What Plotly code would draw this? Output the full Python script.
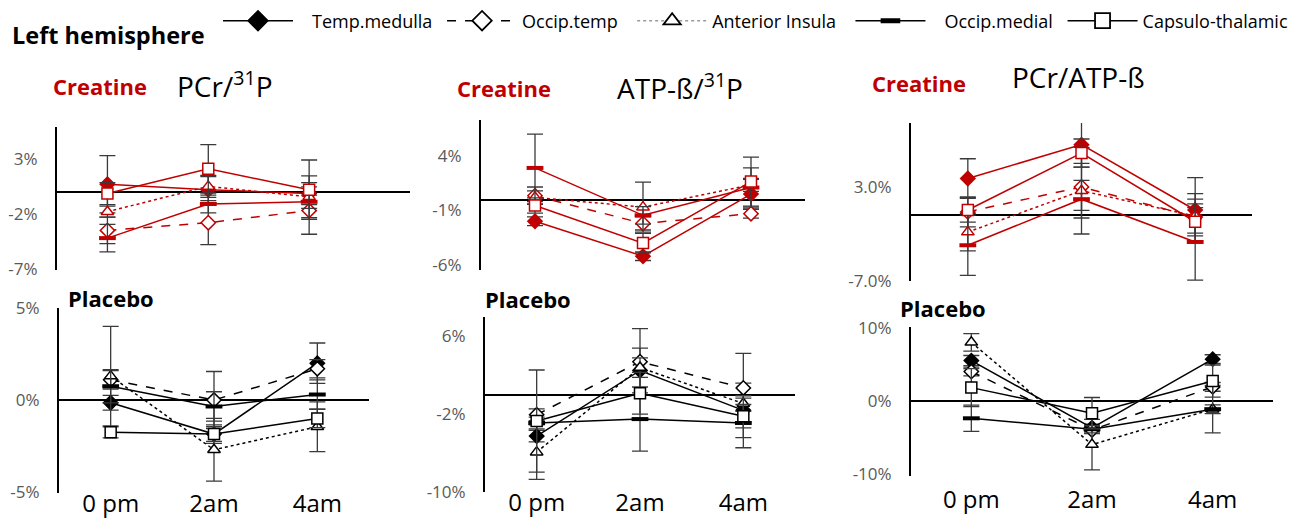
import plotly.graph_objects as go

W, H = 1289, 518

# ---------------- data ----------------
categories = ["0 pm", "2am", "4am"]
series_names = ["Temp.medulla", "Occip.temp", "Anterior Insula", "Occip.medial", "Capsulo-thalamic"]

# rows follow series_names; values are % change
cre_pcr_p = [[0.7, 0.2, -0.15], [-3.5, -2.8, -1.7], [-1.8, 0.5, -0.45], [-4.2, -1.1, -0.9], [-0.15, 2.1, 0.2]]
cre_pcr_p_err = [[2.6, 1.2, 1.0], [1.2, 2.0, 2.15], [0.5, 1.0, 1.9], [1.25, 0.8, 0.6], [1.0, 2.2, 2.7]]

cre_atp_p = [[-2.0, -5.2, 0.5], [0.35, -2.2, -1.3], [0.2, -0.7, 1.35], [2.9, -1.45, 1.1], [-0.55, -4.0, 1.65]]
cre_atp_p_err = [[0.4, 0.4, 1.35], [0.8, 0.6, 0.4], [0.6, 2.3, 0.6], [3.1, 0.8, 1.8], [0.7, 0.9, 2.25]]

cre_pcr_atp = [[3.9, 7.5, 0.55], [0.35, 3.0, -0.2], [-1.8, 2.6, -0.1], [-3.2, 1.7, -2.85], [0.55, 6.6, -0.7]]
cre_pcr_atp_err = [[2.1, 2.4, 3.45], [1.6, 2.5, 2.5], [2.0, 4.6, 1.8], [3.2, 2.0, 4.05], [1.3, 1.5, 1.5]]

pla_pcr_p = [[-0.15, -1.85, 2.0], [1.1, 0.0, 1.7], [1.3, -2.7, -1.45], [0.75, -0.35, 0.3], [-1.75, -1.85, -1.0]]
pla_pcr_p_err = [[0.4, 0.5, 1.1], [0.5, 1.55, 0.5], [2.7, 1.7, 1.35], [0.9, 0.8, 0.8], [0.3, 0.4, 0.5]]

pla_atp_p = [[-4.25, 2.5, -1.6], [-2.05, 3.4, 0.7], [-5.9, 2.8, -0.9], [-2.9, -2.5, -2.9], [-2.7, 0.15, -2.2]]
pla_atp_p_err = [[0.6, 2.3, 2.8], [0.6, 3.4, 3.55], [2.8, 1.0, 0.8], [0.6, 3.3, 2.55], [5.25, 2.15, 1.2]]

pla_pcr_atp = [[5.5, -3.7, 5.7], [4.0, -4.0, 1.9], [8.0, -6.0, -1.15], [-2.4, -3.9, -1.15], [1.8, -1.7, 2.7]]
pla_pcr_atp_err = [[0.7, 0.5, 0.6], [0.6, 0.5, 0.6], [1.2, 3.45, 0.6], [1.8, 0.5, 3.25], [2.6, 2.15, 2.2]]

ticks_cre_pcr_p = [3, -2, -7]
ticks_cre_atp_p = [4, -1, -6]
ticks_cre_pcr_atp = [3.0, -7.0]
ticks_pla_pcr_p = [5, 0, -5]
ticks_pla_atp_p = [6, -2, -10]
ticks_pla_pcr_atp = [10, 0, -10]

# ---------------- styles / layout ----------------
RED = "#C00000"
BLACK = "#000000"
ERR = "#3a3a3a"
FONT = "Open Sans"
NB = "\u00a0"

styles = [
    dict(symbol="diamond", filled=True, dash="solid", pre=3, post=1),
    dict(symbol="diamond", filled=False, dash="dash", pre=0, post=2),
    dict(symbol="triangle-up", filled=False, dash="dot", pre=0, post=2),
    dict(symbol="line-ew", filled=True, dash="solid", pre=3, post=1),
    dict(symbol="square", filled=False, dash="solid", pre=0, post=0),
]

panels = [
    dict(vals=cre_pcr_p, err=cre_pcr_p_err, ticks=ticks_cre_pcr_p, fmt="{:.0f}%", color=RED,
         px=(57, 410), xr=(-0.5, 3.0), py=(127, 270), yr=(-7.1, 5.9), xlabels=False, xso=0),
    dict(vals=cre_atp_p, err=cre_atp_p_err, ticks=ticks_cre_atp_p, fmt="{:.0f}%", color=RED,
         px=(481, 805), xr=(-0.5, 2.5), py=(120, 270), yr=(-6.47, 7.3), xlabels=False, xso=0),
    dict(vals=cre_pcr_atp, err=cre_pcr_atp_err, ticks=ticks_cre_pcr_atp, fmt="{:.1f}%", color=RED,
         px=(911, 1252), xr=(-0.5, 2.5), py=(123, 281), yr=(-7.0, 9.8), xlabels=False, xso=0),
    dict(vals=pla_pcr_p, err=pla_pcr_p_err, ticks=ticks_pla_pcr_p, fmt="{:.0f}%", color=BLACK,
         px=(59, 369), xr=(-0.5, 2.5), py=(308, 493), yr=(-5.05, 5.0), xlabels=True, xso=-6),
    dict(vals=pla_atp_p, err=pla_atp_p_err, ticks=ticks_pla_atp_p, fmt="{:.0f}%", color=BLACK,
         px=(485, 795), xr=(-0.5, 2.5), py=(317, 492), yr=(-10.0, 8.0), xlabels=True, xso=-6),
    dict(vals=pla_pcr_atp, err=pla_pcr_atp_err, ticks=ticks_pla_pcr_atp, fmt="{:.0f}%", color=BLACK,
         px=(911, 1273), xr=(-0.5, 2.5), py=(327, 476), yr=(-10.3, 10.1), xlabels=True, xso=7),
]

fig = go.Figure()
xpos = list(range(len(categories)))

for i, p in enumerate(panels):
    k = "" if i == 0 else str(i + 1)
    for s, name in enumerate(series_names):
        st = styles[s]
        c = p["color"]
        if st["symbol"] == "line-ew":
            marker = dict(symbol="line-ew", size=12, line=dict(color=c, width=4), color=c)
        else:
            marker = dict(symbol=st["symbol"], size=11, color=c if st["filled"] else "white",
                          line=dict(color=c, width=1.5))
        fig.add_trace(go.Scatter(
            x=xpos, y=p["vals"][s], mode="lines+markers", name=name, showlegend=False,
            line=dict(color=c, width=1.5, dash=st["dash"]), marker=marker,
            error_y=dict(type="data", array=p["err"][s], visible=True, color=ERR, thickness=1.3, width=8),
            xaxis="x" + k, yaxis="y" + k,
        ))
    fig.update_layout(**{
        "xaxis" + k: dict(domain=[p["px"][0] / W, p["px"][1] / W], range=list(p["xr"]), anchor="y" + k,
                          showgrid=False, zeroline=False, showline=False, ticks="", automargin=False,
                          tickmode="array", tickvals=xpos if p["xlabels"] else [],
                          ticktext=categories if p["xlabels"] else [],
                          ticklabelstandoff=p["xso"],
                          tickfont=dict(family=FONT, size=24, color="black")),
        "yaxis" + k: dict(domain=[1 - p["py"][1] / H, 1 - p["py"][0] / H], range=list(p["yr"]), anchor="x" + k,
                          showgrid=False, zeroline=True, zerolinecolor="black", zerolinewidth=2,
                          showline=True, linecolor="black", linewidth=2, ticks="", automargin=False,
                          tickmode="array", tickvals=p["ticks"], ticktext=[p["fmt"].format(v) for v in p["ticks"]],
                          ticklabelstandoff=14,
                          tickfont=dict(family=FONT, size=17, color="#595959")),
    })

# legend entries (black samples)
for s, name in enumerate(series_names):
    st = styles[s]
    lc = "#9a9a9a" if s == 2 else "black"
    if st["symbol"] == "line-ew":
        marker = dict(symbol="line-ew", size=14, line=dict(color="black", width=5))
    else:
        marker = dict(symbol=st["symbol"], size=15, color="black" if st["filled"] else "white",
                      line=dict(color="black", width=1.8))
    fig.add_trace(go.Scatter(x=[None], y=[None], mode="lines+markers",
                             name=NB * st["pre"] + name + NB * st["post"], showlegend=True,
                             line=dict(color=lc, width=1.5, dash=st["dash"]), marker=marker))

def ann(text, x, y, size, color="black", bold=False):
    fig.add_annotation(text=f"<b>{text}</b>" if bold else text, x=x / W, y=1 - y / H, xref="paper", yref="paper",
                       xanchor="left", yanchor="middle", showarrow=False,
                       font=dict(family=FONT, size=size, color=color))

ann("Left hemisphere", 10, 35, 23.5, bold=True)
ann("Creatine", 51, 86, 22, RED, bold=True)
ann("PCr/<sup>31</sup>P", 175, 84, 28)
ann("Creatine", 455, 88, 22, RED, bold=True)
ann("ATP-ß/<sup>31</sup>P", 615, 86, 28)
ann("Creatine", 870, 83, 22, RED, bold=True)
ann("PCr/ATP-ß", 1010, 77, 28)
ann("Placebo", 66, 298, 22, bold=True)
ann("Placebo", 483, 299, 22, bold=True)
ann("Placebo", 898, 308, 22, bold=True)

fig.update_layout(
    width=W, height=H, margin=dict(l=0, r=0, t=0, b=0, autoexpand=False),
    paper_bgcolor="white", plot_bgcolor="white",
    showlegend=True,
    legend=dict(orientation="h", x=218 / W, xanchor="left", y=1 - 21 / H, yanchor="middle",
                itemwidth=70, font=dict(family=FONT, size=18, color="black"),
                bgcolor="rgba(0,0,0,0)", traceorder="normal"),
)

fig.write_html("out.html")
